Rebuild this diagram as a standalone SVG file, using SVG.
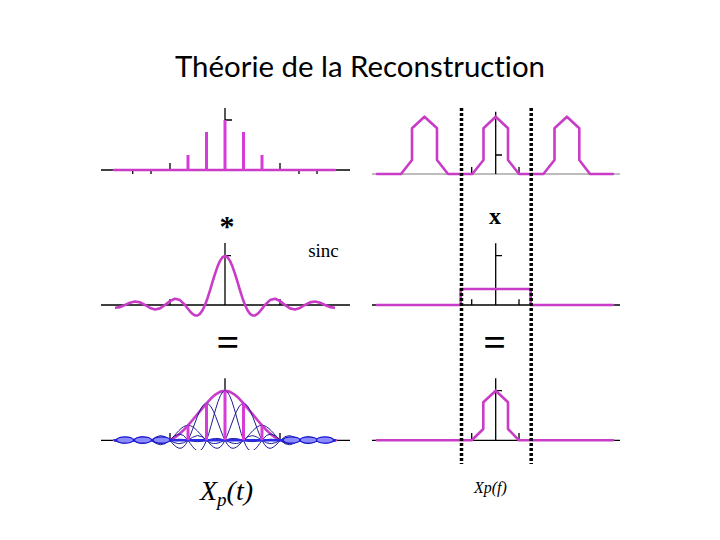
<svg xmlns="http://www.w3.org/2000/svg" xmlns:xlink="http://www.w3.org/1999/xlink" width="720" height="540" viewBox="0 0 720 540">
<style>
.ax{stroke:#000;stroke-width:1.3;fill:none}
.gax{stroke:#bdbdbd;stroke-width:2;fill:none}
.mg{stroke:#C83CC8;stroke-width:2.6;fill:none;stroke-linejoin:round;stroke-linecap:round}
.imp{stroke:#D63CD6;stroke-width:3;fill:none}
.dash{stroke:#000;stroke-width:3.5;stroke-dasharray:3 2;fill:none}
.unit{fill:none;stroke-linejoin:round;vector-effect:non-scaling-stroke}
.blue{stroke:#1c1c92;stroke-width:1}
.blob{fill:#8c8cff;stroke:#1414d0;stroke-width:1.2}
.serif{font-family:'Liberation Serif','Times New Roman',serif;fill:#000}
</style>
<defs>
<path id="sinc" class="unit" d="M-8 0 L-7.75 0.029 -7.5 0.0424 -7.25 0.031 -7 0 -6.75 -0.0333 -6.5 -0.049 -6.25 -0.036 -6 0 -5.75 0.0392 -5.5 0.0579 -5.25 0.0429 -5 0 -4.75 -0.0474 -4.5 -0.0707 -4.25 -0.053 -4 0 -3.75 0.06 -3.5 0.0909 -3.25 0.0693 -3 0 -2.75 -0.0818 -2.5 -0.1273 -2.25 -0.1 -2 0 -1.875 0.065 -1.75 0.1286 -1.625 0.181 -1.5 0.2122 -1.375 0.2139 -1.25 0.1801 -1.125 0.1083 -1 0 -0.875 -0.1392 -0.75 -0.3001 -0.625 -0.4705 -0.5 -0.6366 -0.375 -0.7842 -0.25 -0.9003 -0.125 -0.9745 0 -1 0.125 -0.9745 0.25 -0.9003 0.375 -0.7842 0.5 -0.6366 0.625 -0.4705 0.75 -0.3001 0.875 -0.1392 1 0 1.125 0.1083 1.25 0.1801 1.375 0.2139 1.5 0.2122 1.625 0.181 1.75 0.1286 1.875 0.065 2 0 2.25 -0.1 2.5 -0.1273 2.75 -0.0818 3 0 3.25 0.0693 3.5 0.0909 3.75 0.06 4 0 4.25 -0.053 4.5 -0.0707 4.75 -0.0474 5 0 5.25 0.0429 5.5 0.0579 5.75 0.0392 6 0 6.25 -0.036 6.5 -0.049 6.75 -0.0333 7 0 7.25 0.031 7.5 0.0424 7.75 0.029 8 0"/>
<clipPath id="clipMid"><rect x="115" y="240" width="220" height="80"/></clipPath>
<clipPath id="clipBot"><rect x="114" y="370" width="222" height="80"/></clipPath>
</defs>
<rect width="720" height="540" fill="#fff"/>

<text x="360" y="77" text-anchor="middle" font-family="Lato,'Open Sans',sans-serif" font-size="28" style="font-variant-ligatures:none" textLength="370" lengthAdjust="spacingAndGlyphs">Théorie de la Reconstruction</text>

<!-- top-left: sampled impulses -->
<g id="samples-time">
<line class="ax" x1="101" y1="170" x2="350" y2="170"/>
<path class="ax" d="M225 108 V170 M225 120 H232 M170 170 V163 M280 170 V163 M132.7 170 V174 M151 170 V174 M299 170 V174 M317 170 V174"/>
<line class="mg" x1="114" y1="170" x2="335" y2="170"/>
<path class="imp" d="M188 170 V155 M206.5 170 V132 M225 170 V120 M243.5 170 V132 M262 170 V155"/>
</g>

<!-- top-right: periodic spectrum -->
<g id="spectrum-periodic">
<line class="gax" x1="372" y1="174" x2="620" y2="174"/>
<path class="ax" d="M495.7 111.7 V174 M495.7 155 H502 M471.7 174 V167 M519 174 V167"/>
<polyline class="mg" points="377,174 401,174 412,160 412,128.3 424.5,116.7 437,128.3 437,160 448,174 472.3,174 483.5,160 483.5,128.3 495.7,116.7 508,128.3 508,160 519,174 543.4,174 554.5,160 554.5,128.3 566.9,116.7 579.3,128.3 579.3,160 590,174 613,174"/>
</g>

<!-- middle-left: sinc -->
<g id="sinc-kernel">
<line class="ax" x1="101" y1="305" x2="350" y2="305"/>
<path class="ax" d="M225 243 V305 M225 255.7 H231 M170 305 V299 M280 305 V299"/>
<g clip-path="url(#clipMid)">
<use xlink:href="#sinc" href="#sinc" class="mg" transform="translate(225,305) scale(20,49)"/>
</g>
</g>

<!-- middle-right: rect window -->
<g id="rect-window">
<line class="ax" x1="372" y1="305" x2="620" y2="305"/>
<path class="ax" d="M495.7 243.3 V305 M495.7 255.7 H502 M471.7 305 V299.3 M519 305 V299.3"/>
<polyline class="mg" points="377,305 460.7,305 460.7,289 530.7,289 530.7,305 613,305"/>
</g>

<!-- bottom-left: reconstruction -->
<g id="reconstruction-time">
<line class="ax" x1="101" y1="440.3" x2="350" y2="440.3"/>
<path class="ax" d="M225 378.3 V440.3 M170 440.3 V433 M280 440.3 V433"/>
<polyline class="mg" stroke-width="2" points="114,440.3 118.6,440.6 123.25,440.7 127.9,440.6 132.5,440.3 137.1,439.9 141.75,439.7 146.4,439.8 151,440.3 155.6,441 160.25,441.5 164.9,441.4 169.5,440.3 174.1,438 178.75,434.6 183.4,430.3 188,425.3 192.6,420 197.25,414.4 201.9,408.8 206.5,403.3 211.1,398.3 215.75,394.3 220.4,391.6 225,390.7 229.6,391.6 234.25,394.3 238.9,398.3 243.5,403.3 248.1,408.8 252.75,414.4 257.4,420 262,425.3 266.6,430.3 271.25,434.6 275.9,438 280.5,440.3 285.1,441.4 289.75,441.5 294.4,441 299,440.3 303.6,439.8 308.25,439.7 312.9,439.9 317.5,440.3 322.1,440.6 326.75,440.7 331.4,440.6 336,440.3"/>
<g clip-path="url(#clipBot)">
<use xlink:href="#sinc" href="#sinc" class="blue" transform="translate(188,440.3) scale(18.5,15)"/>
<use xlink:href="#sinc" href="#sinc" class="blue" transform="translate(206.5,440.3) scale(18.5,37)"/>
<use xlink:href="#sinc" href="#sinc" class="blue" transform="translate(225,440.3) scale(18.5,49.6)"/>
<use xlink:href="#sinc" href="#sinc" class="blue" transform="translate(243.5,440.3) scale(18.5,37)"/>
<use xlink:href="#sinc" href="#sinc" class="blue" transform="translate(262,440.3) scale(18.5,15)"/>
</g>
<line x1="114" y1="440.3" x2="336" y2="440.3" stroke="#2a2ae8" stroke-width="2.5"/>
<g class="blob">
<ellipse cx="125" cy="440" rx="8.5" ry="3.2"/>
<ellipse cx="143" cy="440" rx="8.5" ry="3.2"/>
<ellipse cx="161.5" cy="440" rx="8.5" ry="3.2"/>
<ellipse cx="291.5" cy="440" rx="8.5" ry="3.2"/>
<ellipse cx="308.5" cy="440" rx="8.5" ry="3.2"/>
<ellipse cx="325" cy="440" rx="8.5" ry="3.2"/>
</g>
<path class="imp" d="M188 440.3 V425.3 M206.5 440.3 V403.3 M225 440.3 V390.7 M243.5 440.3 V403.3 M262 440.3 V425.3"/>
</g>

<!-- bottom-right: filtered spectrum -->
<g id="spectrum-filtered">
<line class="ax" x1="372" y1="440.3" x2="620" y2="440.3"/>
<path class="ax" d="M495.7 378.3 V440.3 M495.7 390.7 H502 M471.7 440.3 V433 M519 440.3 V433"/>
<polyline class="mg" points="377,440.3 471.7,440.3 483.3,429 483.3,402.3 495.7,390.7 508,402.3 508,429 519,440.3 613,440.3"/>
</g>

<!-- dotted window boundaries -->
<g id="window-bounds">
<line class="dash" x1="461.5" y1="108" x2="461.5" y2="464"/>
<line class="dash" x1="531.2" y1="108" x2="531.2" y2="464"/>
</g>

<!-- operators and labels -->
<g id="labels">
<text class="serif" x="227" y="236" font-size="30" font-weight="bold" text-anchor="middle">*</text>
<text class="serif" x="495" y="224" font-size="24" font-weight="bold" text-anchor="middle">x</text>
<text class="serif" x="323.5" y="256.5" font-size="19" text-anchor="middle">sinc</text>
<text class="serif" x="228" y="356" font-size="40" font-weight="bold" text-anchor="middle">=</text>
<text class="serif" x="494.7" y="356" font-size="40" font-weight="bold" text-anchor="middle">=</text>
<text class="serif" x="200" y="499.5" font-size="28" font-style="italic">X<tspan font-size="19" dy="6">p</tspan><tspan dy="-6">(t)</tspan></text>
<text class="serif" x="474" y="493" font-size="16" font-style="italic">Xp(f)</text>
</g>
</svg>
